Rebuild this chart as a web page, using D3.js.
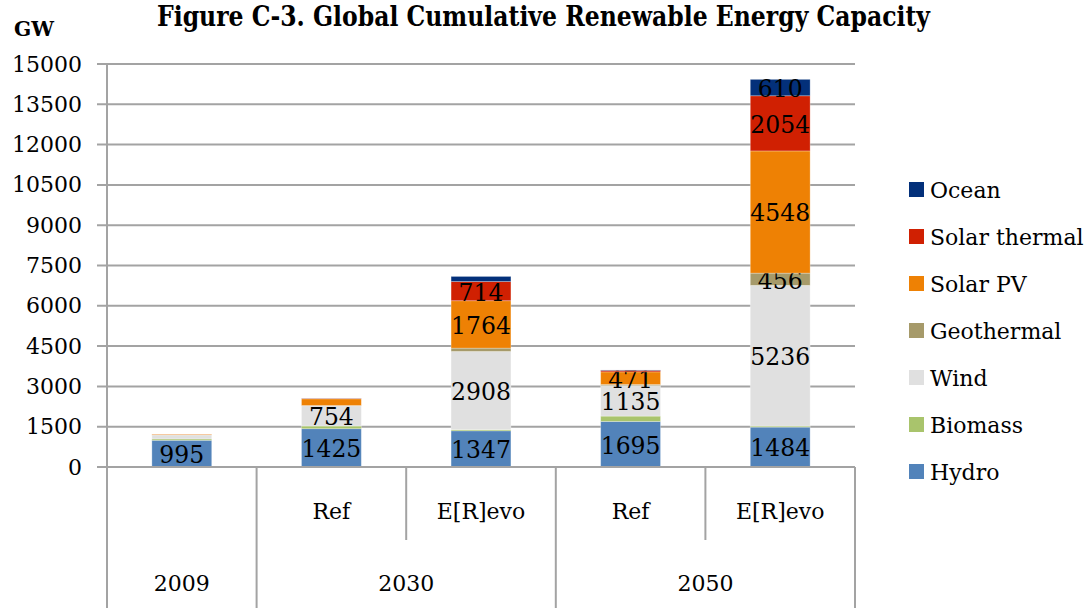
<!DOCTYPE html>
<html>
<head>
<meta charset="utf-8">
<style>
  body { margin: 0; background: #fff; }
  text { font-family: "DejaVu Serif", serif; fill: #000; }
</style>
</head>
<body>
<script src="https://d3js.org/d3.v7.min.js"></script>
<script>

    // Data
    var columns   = ["2009", "2030 Ref", "2030 E[R]evo", "2050 Ref", "2050 E[R]evo"];
    var subLabels = ["", "Ref", "E[R]evo", "Ref", "E[R]evo"];
    var groups    = ["2009", "2030", "2050"];
    var groupSpan = [1, 2, 2];   // number of columns in each group

    var series = ["Hydro", "Biomass", "Wind", "Geothermal", "Solar PV", "Solar thermal", "Ocean"];
    var hydro        = [995, 1425, 1347, 1695, 1484];
    var biomass      = [50, 100, 45, 200, 40];
    var wind         = [140, 754, 2908, 1135, 5236];
    var geothermal   = [10, 10, 125, 40, 456];
    var solarPV      = [25, 250, 1764, 471, 4548];
    var solarThermal = [2, 15, 714, 55, 2054];
    var ocean        = [0, 5, 190, 15, 610];
    var yTicks = [0, 1500, 3000, 4500, 6000, 7500, 9000, 10500, 12000, 13500, 15000];

    var colors = {
        "Hydro": "#5283ba",
        "Biomass": "#a9c46c",
        "Wind": "#e0e0e0",
        "Geothermal": "#a69a6a",
        "Solar PV": "#ee8104",
        "Solar thermal": "#d02002",
        "Ocean": "#03307a"
    };

    // build rows for the stack
    var valueLists = [hydro, biomass, wind, geothermal, solarPV, solarThermal, ocean];
    var rows = columns.map(function(c, i) {
        var r = {column: c};
        series.forEach(function(s, j) { r[s] = valueLists[j][i]; });
        return r;
    });

    // Plot area
    var plotLeft = 107, plotRight = 855, plotTop = 64, plotBottom = 467, chartBottom = 608;

    var svg = d3.select("body").append("svg")
        .attr("width", 1085)
        .attr("height", 608);

    var x = d3.scaleBand().domain(columns).range([plotLeft, plotRight])
        .paddingInner(0.6).paddingOuter(0.3);
    var y = d3.scaleLinear().domain([0, 15000]).range([plotBottom, plotTop]);

    var grid = "#a3a3a3";

    // gridlines (extend past the axis as tick marks)
    svg.append("g").selectAll("line")
        .data(yTicks)
        .enter().append("line")
        .attr("x1", plotLeft - 10).attr("x2", plotRight)
        .attr("y1", function(d) { return y(d); })
        .attr("y2", function(d) { return y(d); })
        .attr("stroke", grid).attr("stroke-width", 2);

    // y axis labels
    var yAxis = svg.append("g")
        .attr("transform", "translate(" + plotLeft + ",0)")
        .call(d3.axisLeft(y).tickValues(yTicks).tickSize(0).tickPadding(25).tickFormat(d3.format("d")));
    yAxis.select(".domain").remove();
    yAxis.selectAll("text")
        .style("font-family", "DejaVu Serif")
        .style("font-size", "22px");

    // y axis line, down through category area
    svg.append("line")
        .attr("x1", plotLeft).attr("x2", plotLeft)
        .attr("y1", plotTop).attr("y2", chartBottom)
        .attr("stroke", grid).attr("stroke-width", 2);

    // stacked bars
    var stacked = d3.stack().keys(series)(rows);

    var layer = svg.append("g").selectAll("g")
        .data(stacked)
        .enter().append("g")
        .attr("fill", function(d) { return colors[d.key]; });

    layer.selectAll("rect")
        .data(function(d) { return d; })
        .enter().append("rect")
        .attr("x", function(d) { return x(d.data.column); })
        .attr("width", x.bandwidth())
        .attr("y", function(d) { return y(d[1]); })
        .attr("height", function(d) { return y(d[0]) - y(d[1]); })
        .attr("stroke", "#fff").attr("stroke-opacity", 0.35).attr("stroke-width", 0.8);

    // data labels, only for the bigger segments
    layer.selectAll("text")
        .data(function(d) { return d.filter(function(p) { return p[1] - p[0] >= 450; }); })
        .enter().append("text")
        .attr("x", function(d) { return x(d.data.column) + x.bandwidth() / 2; })
        .attr("y", function(d) { return (y(d[0]) + y(d[1])) / 2; })
        .attr("dy", "0.4em")
        .attr("text-anchor", "middle")
        .style("font-size", "23.5px")
        .style("fill", "#000")
        .text(function(d) { return d[1] - d[0]; });

    // x axis: baseline, sub-category and group dividers
    svg.append("line")
        .attr("x1", plotLeft).attr("x2", plotRight)
        .attr("y1", plotBottom).attr("y2", plotBottom)
        .attr("stroke", grid).attr("stroke-width", 2);

    var step = x.step();
    var edges = [0];
    groupSpan.forEach(function(n) { edges.push(edges[edges.length - 1] + n); });

    // short dividers inside groups
    var cum = 0;
    groupSpan.forEach(function(n) {
        for (var k = 1; k < n; k++) {
            var xx = plotLeft + (cum + k) * step;
            svg.append("line")
                .attr("x1", xx).attr("x2", xx)
                .attr("y1", plotBottom).attr("y2", 540)
                .attr("stroke", grid).attr("stroke-width", 2);
        }
        cum += n;
    });

    // group dividers
    edges.slice(1).forEach(function(e) {
        var xx = plotLeft + e * step;
        svg.append("line")
            .attr("x1", xx).attr("x2", xx)
            .attr("y1", plotBottom).attr("y2", chartBottom)
            .attr("stroke", grid).attr("stroke-width", 2);
    });

    // sub-category labels
    svg.append("g").selectAll("text")
        .data(columns)
        .enter().append("text")
        .attr("x", function(d) { return x(d) + x.bandwidth() / 2; })
        .attr("y", 519)
        .attr("text-anchor", "middle")
        .style("font-size", "22px")
        .text(function(d, i) { return subLabels[i]; });

    // group labels
    svg.append("g").selectAll("text")
        .data(groups)
        .enter().append("text")
        .attr("x", function(d, i) { return plotLeft + (edges[i] + edges[i + 1]) / 2 * step; })
        .attr("y", 591)
        .attr("text-anchor", "middle")
        .style("font-size", "22px")
        .text(function(d) { return d; });

    // legend (top to bottom: reverse of stack order)
    var legend = svg.append("g").selectAll("g")
        .data(series.slice().reverse())
        .enter().append("g")
        .attr("transform", function(d, i) { return "translate(909," + (190 + i * 47) + ")"; });

    legend.append("rect")
        .attr("x", 0).attr("y", -8)
        .attr("width", 15).attr("height", 15)
        .attr("fill", function(d) { return colors[d]; });

    legend.append("text")
        .attr("x", 21).attr("y", 0)
        .attr("dy", "0.36em")
        .style("font-size", "22px")
        .text(function(d) { return d; });

    // title and unit
    svg.append("text")
        .attr("x", 157).attr("y", 26)
        .attr("textLength", 773)
        .attr("lengthAdjust", "spacingAndGlyphs")
        .style("font-size", "27px")
        .style("font-weight", "bold")
        .text("Figure C-3. Global Cumulative Renewable Energy Capacity");

    svg.append("text")
        .attr("x", 14).attr("y", 36)
        .attr("textLength", 40)
        .attr("lengthAdjust", "spacingAndGlyphs")
        .style("font-size", "21px")
        .style("font-weight", "bold")
        .text("GW");

</script>
</body>
</html>
